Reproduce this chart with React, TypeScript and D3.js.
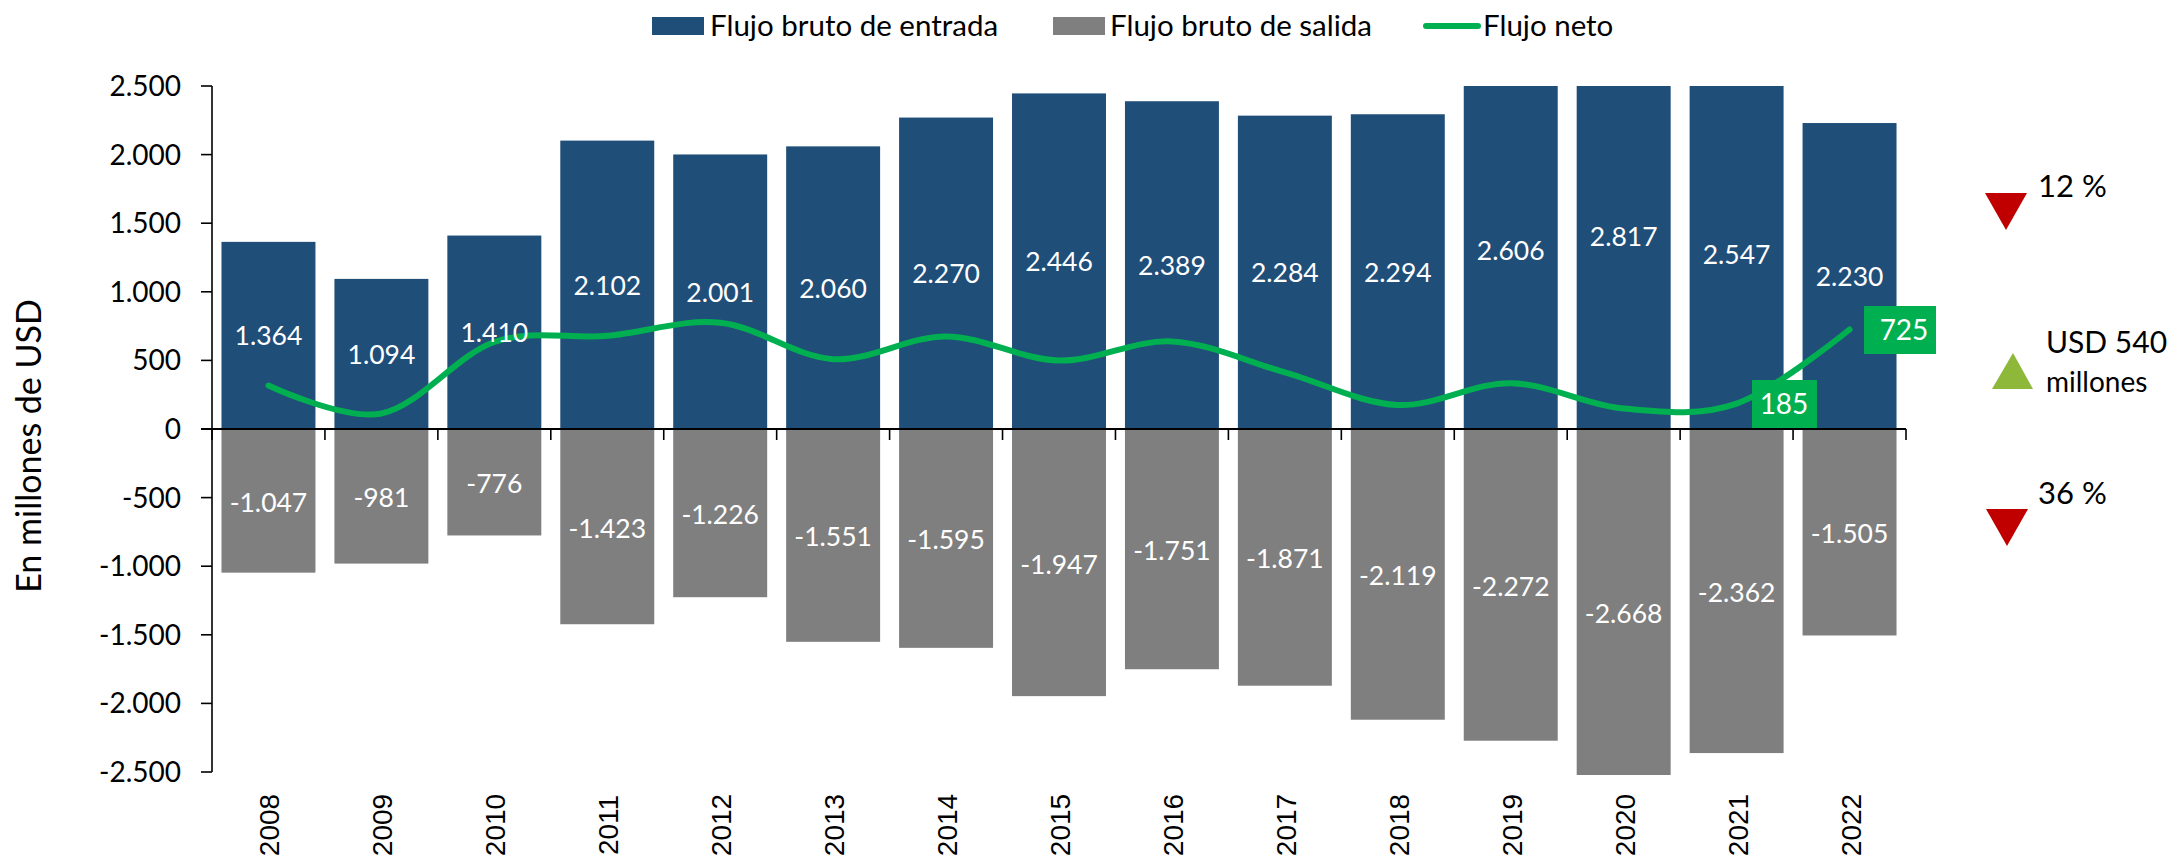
import { useEffect, useRef } from "react";
import * as d3 from "d3";

const years = ["2008", "2009", "2010", "2011", "2012", "2013", "2014", "2015", "2016", "2017", "2018", "2019", "2020", "2021", "2022"];
const inflow = [1364, 1094, 1410, 2102, 2001, 2060, 2270, 2446, 2389, 2284, 2294, 2606, 2817, 2547, 2230];
const outflow = [-1047, -981, -776, -1423, -1226, -1551, -1595, -1947, -1751, -1871, -2119, -2272, -2668, -2362, -1505];
const net = [317, 113, 634, 679, 775, 509, 675, 499, 638, 413, 175, 334, 149, 185, 725];
const yTicks = [2500, 2000, 1500, 1000, 500, 0, -500, -1000, -1500, -2000, -2500];

const WIDTH = 2171;
const HEIGHT = 860;
const BLUE = "#1F4E79";
const GREY = "#7F7F7F";
const GREEN = "#00B050";
const RED = "#C00000";
const OLIVE = "#8DB83A";
const FONT = "Lato, sans-serif";

// es-style thousands: 2.500, -1.047
const fmt = (v: number) => d3.format(",")(v).replace(/,/g, ".").replace("−", "-");

export default function App() {
  const svgRef = useRef<SVGSVGElement>(null);

  useEffect(() => {
    const svg = d3.select(svgRef.current);
    svg.selectAll("*").remove();
    svg.style("font-family", FONT);

    const x = d3.scaleBand().domain(years).range([212, 1906]).paddingInner(0.168).paddingOuter(0.084);
    const y = d3.scaleLinear().domain([-2500, 2500]).range([772, 86]);
    const cx = (yr: string) => x(yr)! + x.bandwidth() / 2;

    // bars are cut at the axis top, only the bottom runs slightly over
    svg
      .append("clipPath")
      .attr("id", "plot")
      .append("rect")
      .attr("x", 212)
      .attr("y", 86)
      .attr("width", 1694)
      .attr("height", 689);

    const bars = svg.append("g").attr("clip-path", "url(#plot)");
    bars
      .selectAll("rect.in")
      .data(inflow)
      .enter()
      .append("rect")
      .attr("class", "in")
      .attr("x", (_, i) => x(years[i])!)
      .attr("y", (d) => y(d))
      .attr("width", x.bandwidth())
      .attr("height", (d) => y(0) - y(d))
      .attr("fill", BLUE);
    bars
      .selectAll("rect.out")
      .data(outflow)
      .enter()
      .append("rect")
      .attr("class", "out")
      .attr("x", (_, i) => x(years[i])!)
      .attr("y", y(0))
      .attr("width", x.bandwidth())
      .attr("height", (d) => y(d) - y(0))
      .attr("fill", GREY);

    // axes
    const axisG = svg.append("g").attr("stroke", "#000");
    axisG.append("line").attr("x1", 212).attr("x2", 212).attr("y1", y(2500)).attr("y2", y(-2500)).attr("stroke-width", 1.6);
    axisG.append("line").attr("x1", 201).attr("x2", 1906).attr("y1", y(0)).attr("y2", y(0)).attr("stroke-width", 2);
    axisG
      .selectAll("line.ytick")
      .data(yTicks)
      .enter()
      .append("line")
      .attr("class", "ytick")
      .attr("x1", 201)
      .attr("x2", 212)
      .attr("y1", (d) => y(d))
      .attr("y2", (d) => y(d))
      .attr("stroke-width", 1.6);
    axisG
      .selectAll("line.xtick")
      .data(d3.range(years.length + 1))
      .enter()
      .append("line")
      .attr("class", "xtick")
      .attr("x1", (i) => 212 + i * x.step())
      .attr("x2", (i) => 212 + i * x.step())
      .attr("y1", y(0))
      .attr("y2", y(0) + 11)
      .attr("stroke-width", 1.6);

    svg
      .selectAll("text.ylabel")
      .data(yTicks)
      .enter()
      .append("text")
      .attr("class", "ylabel")
      .attr("x", 181)
      .attr("y", (d) => y(d) + 10)
      .attr("text-anchor", "end")
      .attr("font-size", 28)
      .text((d) => fmt(d));

    svg
      .selectAll("text.xlabel")
      .data(years)
      .enter()
      .append("text")
      .attr("class", "xlabel")
      .attr("transform", (d) => `translate(${cx(d) + 11},825) rotate(-90)`)
      .attr("text-anchor", "middle")
      .attr("font-family", "'Liberation Sans', sans-serif")
      .attr("font-size", 28)
      .text((d) => d);

    svg
      .append("text")
      .attr("transform", "translate(41,446) rotate(-90)")
      .attr("text-anchor", "middle")
      .attr("font-size", 34)
      .text("En millones de USD");

    // net flow, excel-style smooth line, under the value labels
    const line = d3
      .line<number>()
      .x((_, i) => cx(years[i]))
      .y((d) => y(d))
      .curve(d3.curveCatmullRom.alpha(0));
    svg
      .append("path")
      .attr("d", line(net))
      .attr("fill", "none")
      .attr("stroke", GREEN)
      .attr("stroke-width", 6)
      .attr("stroke-linecap", "round");

    // value labels sit at the centre of the full bar, even when it is clipped
    svg
      .selectAll("text.inlabel")
      .data(inflow)
      .enter()
      .append("text")
      .attr("class", "inlabel")
      .attr("x", (_, i) => cx(years[i]))
      .attr("y", (d) => (y(d) + y(0)) / 2 + 10)
      .attr("text-anchor", "middle")
      .attr("fill", "#fff")
      .attr("font-size", 26.5)
      .text((d) => fmt(d));
    svg
      .selectAll("text.outlabel")
      .data(outflow)
      .enter()
      .append("text")
      .attr("class", "outlabel")
      .attr("x", (_, i) => cx(years[i]))
      .attr("y", (d) => (y(d) + y(0)) / 2 + 11)
      .attr("text-anchor", "middle")
      .attr("fill", "#fff")
      .attr("font-size", 26.5)
      .text((d) => fmt(d));

    // callouts for the last two net values
    const callouts = [
      { value: net[13], x: 1752, y: 380, w: 65, tx: 1784 },
      { value: net[14], x: 1864, y: 306, w: 72, tx: 1904 },
    ];
    callouts.forEach((c) => {
      svg.append("rect").attr("x", c.x).attr("y", c.y).attr("width", c.w).attr("height", 48).attr("fill", GREEN);
      svg
        .append("text")
        .attr("x", c.tx)
        .attr("y", c.y + 34)
        .attr("text-anchor", "middle")
        .attr("fill", "#fff")
        .attr("font-size", 28)
        .text(c.value);
    });

    // legend
    const legendText = (tx: number, label: string) =>
      svg.append("text").attr("x", tx).attr("y", 36).attr("font-size", 29.5).text(label);
    svg.append("rect").attr("x", 652).attr("y", 17).attr("width", 52).attr("height", 18).attr("fill", BLUE);
    legendText(710, "Flujo bruto de entrada");
    svg.append("rect").attr("x", 1053).attr("y", 17).attr("width", 52).attr("height", 18).attr("fill", GREY);
    legendText(1110, "Flujo bruto de salida");
    svg.append("line").attr("x1", 1426).attr("x2", 1478).attr("y1", 26).attr("y2", 26).attr("stroke", GREEN).attr("stroke-width", 6).attr("stroke-linecap", "round");
    legendText(1483, "Flujo neto");

    // variation markers on the right
    const tri = (pts: number[][], fill: string) =>
      svg.append("polygon").attr("points", pts.map((p) => p.join(",")).join(" ")).attr("fill", fill);
    tri([[1985, 193], [2027, 193], [2006, 230]], RED);
    tri([[1992, 389], [2033, 389], [2013, 353]], OLIVE);
    tri([[1986, 509], [2028, 509], [2007, 546]], RED);

    const note = (tx: number, ty: number, size: number, label: string) =>
      svg.append("text").attr("x", tx).attr("y", ty).attr("font-size", size).text(label);
    note(2038, 197, 31, "12 %");
    note(2046, 353, 30, "USD 540");
    note(2046, 392, 28, "millones");
    note(2038, 504, 31, "36 %");
  }, []);

  return (
    <svg
      ref={svgRef}
      width={WIDTH}
      height={HEIGHT}
      style={{ position: "absolute", left: 0, top: 0, display: "block", background: "#fff" }}
    />
  );
}
